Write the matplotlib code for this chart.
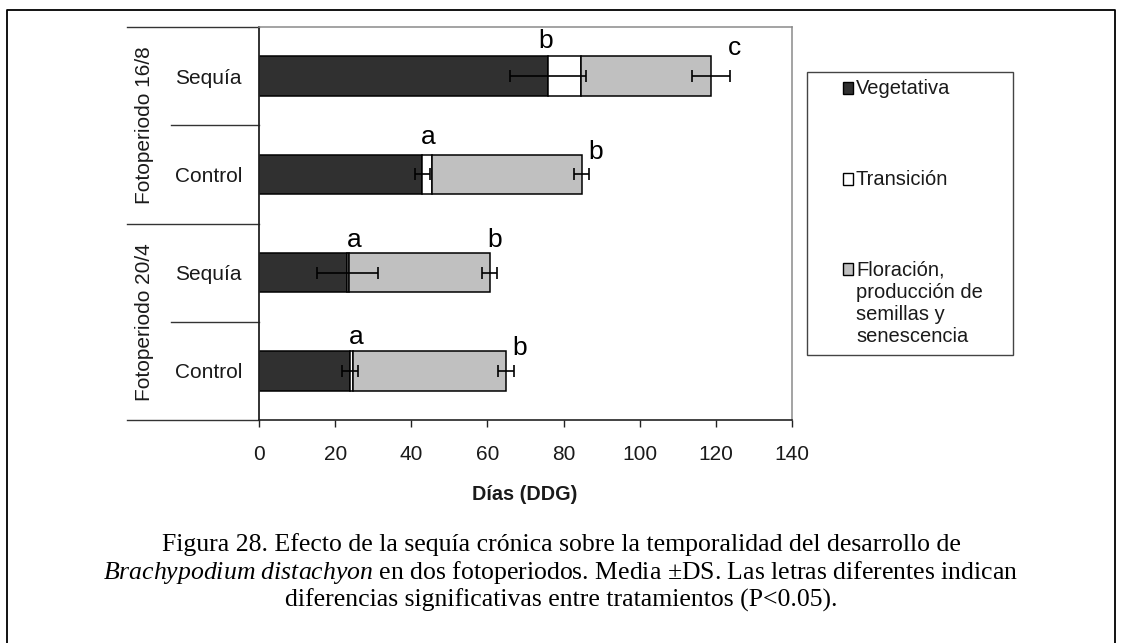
import matplotlib
matplotlib.use("Agg")
import matplotlib.pyplot as plt
from matplotlib.patches import Rectangle
from matplotlib.transforms import blended_transform_factory

plt.rcParams['font.family'] = ['Liberation Sans', 'DejaVu Sans']
plt.rcParams['mathtext.fontset'] = 'custom'
plt.rcParams['mathtext.it'] = 'Liberation Serif:italic'
plt.rcParams['mathtext.rm'] = 'Liberation Serif'

# ---- data (rows top to bottom) ----
treatments = ["Sequía", "Control", "Sequía", "Control"]
photoperiods = ["Fotoperiodo 16/8", "Fotoperiodo 20/4"]
vegetativa = [76.0, 42.9, 23.2, 23.8]
transicion = [8.7, 2.6, 0.4, 0.9]
floracion = [34.1, 39.3, 37.0, 40.1]
sd_vegetativa = [10.0, 2.0, 8.0, 2.1]
sd_total = [5.0, 2.0, 2.0, 2.1]
letters_vegetativa = ["b", "a", "a", "a"]
letters_total = ["c", "b", "b", "b"]
stage_labels = ["Vegetativa", "Transición",
                "Floración,\nproducción de\nsemillas y\nsenescencia"]
x_ticks = [0, 20, 40, 60, 80, 100, 120, 140]
x_label = "Días (DDG)"
caption = [
    "Figura 28. Efecto de la sequía crónica sobre la temporalidad del desarrollo de",
    r"$\mathit{Brachypodium\ distachyon}$ en dos fotoperiodos. Media ±DS. Las letras diferentes indican",
    "diferencias significativas entre tratamientos (P<0.05).",
]

# ---- styling / layout ----
W, H = 1122, 643
stage_colors = ["#303030", "#ffffff", "#c0c0c0"]
letter_dx_veg = [-0.8, 1.5, 1.9, 1.8]
letter_dx_tot = [1.2, 1.5, -0.7, 1.5]
letter_dy_veg = [-0.283, -0.313, -0.265, -0.273]
letter_dy_tot = [-0.214, -0.160, -0.265, -0.163]
label_size = 15
legend_size = 14.5
letter_size = 19


def fx(px):
    return px / W


def fy(py):
    return 1 - py / H


fig = plt.figure(figsize=(W / 100, H / 100), dpi=100)
ax = fig.add_axes([fx(259), fy(420), fx(792) - fx(259), fy(27) - fy(420)])

rows = list(range(len(treatments)))
bar_h = 0.4
left = [0.0] * len(rows)
for vals, col in zip([vegetativa, transicion, floracion], stage_colors):
    ax.barh(rows, vals, height=bar_h, left=left, color=col,
            edgecolor="black", linewidth=1.1, zorder=2)
    left = [l + v for l, v in zip(left, vals)]
totals = left

ax.errorbar(vegetativa, rows, xerr=sd_vegetativa, fmt="none", ecolor="black",
            elinewidth=1.2, capsize=4.5, capthick=1.2, zorder=3)
ax.errorbar(totals, rows, xerr=sd_total, fmt="none", ecolor="black",
            elinewidth=1.2, capsize=4.5, capthick=1.2, zorder=3)

for i in rows:
    ax.text(vegetativa[i] + letter_dx_veg[i], i + letter_dy_veg[i],
            letters_vegetativa[i], ha="center", va="baseline",
            fontsize=letter_size, color="black")
    ax.text(totals[i] + sd_total[i] + letter_dx_tot[i], i + letter_dy_tot[i],
            letters_total[i], ha="center", va="baseline",
            fontsize=letter_size, color="black")

ax.set_xlim(0, 140)
ax.set_ylim(len(rows) - 0.5, -0.5)
ax.set_xticks(x_ticks)
ax.set_xticklabels([str(t) for t in x_ticks])
ax.set_yticks(rows)
ax.set_yticklabels(treatments)
for lab in ax.get_yticklabels():
    lab.set_horizontalalignment("center")
ax.tick_params(axis="y", length=0, pad=36.5, labelsize=label_size,
               labelcolor="#1a1a1a")
ax.tick_params(axis="x", direction="out", length=4.8, width=1.0, pad=13.0,
               labelsize=label_size, labelcolor="#1a1a1a", color="#222222")

for s in ["top", "right"]:
    ax.spines[s].set_color("#8a8a8a")
    ax.spines[s].set_linewidth(1.1)
ax.spines["left"].set_color("#222222")
ax.spines["left"].set_linewidth(1.3)
ax.spines["bottom"].set_color("#222222")
ax.spines["bottom"].set_linewidth(1.2)

# group separators on the category axis
tr = blended_transform_factory(ax.transAxes, ax.transData)
x_long = (127 - 259) / (792 - 259)
x_short = (171 - 259) / (792 - 259)
for b in [-0.5, 1.5, 3.5]:
    ax.plot([x_long, 0], [b, b], transform=tr, color="#333333", lw=1.0,
            clip_on=False)
for b in [0.5, 2.5]:
    ax.plot([x_short, 0], [b, b], transform=tr, color="#333333", lw=1.0,
            clip_on=False)
x_group = (145 - 259) / (792 - 259)
for g, name in enumerate(photoperiods):
    ax.text(x_group, 2 * g + 0.5, name, transform=tr, rotation=90,
            ha="center", va="center", fontsize=label_size, color="#1a1a1a")

fig.text(fx(525), fy(494), x_label, ha="center", va="center",
         fontsize=14.3, fontweight="bold", color="#1a1a1a")

# legend box
fig.patches.append(Rectangle((fx(807), fy(355)), fx(1013) - fx(807),
                             fy(72) - fy(355), transform=fig.transFigure,
                             facecolor="white", edgecolor="#444444", lw=1.0))
legend_baselines = [94, 185, 275]
for col, lab, yb in zip(stage_colors, stage_labels, legend_baselines):
    fig.patches.append(Rectangle((fx(843), fy(yb - 0.5)), fx(853) - fx(843),
                                 fy(yb - 11.5) - fy(yb - 0.5),
                                 transform=fig.transFigure, facecolor=col,
                                 edgecolor="black", lw=1.0))
    fig.text(fx(856), fy(yb), lab.split("\n")[0], ha="left", va="baseline",
             fontsize=legend_size, color="#1a1a1a")
    for k, extra in enumerate(lab.split("\n")[1:], start=1):
        fig.text(fx(856), fy(yb + 22.5 * k), extra, ha="left", va="baseline",
                 fontsize=legend_size, color="#1a1a1a")

# caption
for yc, line in zip([545, 573, 600], caption):
    fig.text(0.5, fy(yc), line, ha="center", va="center", fontsize=18.5,
             family="Liberation Serif", color="black")

# page frame
fig.lines.append(plt.Line2D([fx(7), fx(7), fx(1115), fx(1115)],
                            [0, fy(10), fy(10), 0], transform=fig.transFigure,
                            color="black", lw=1.3))

fig.savefig("out.png", dpi=100, facecolor="white")
